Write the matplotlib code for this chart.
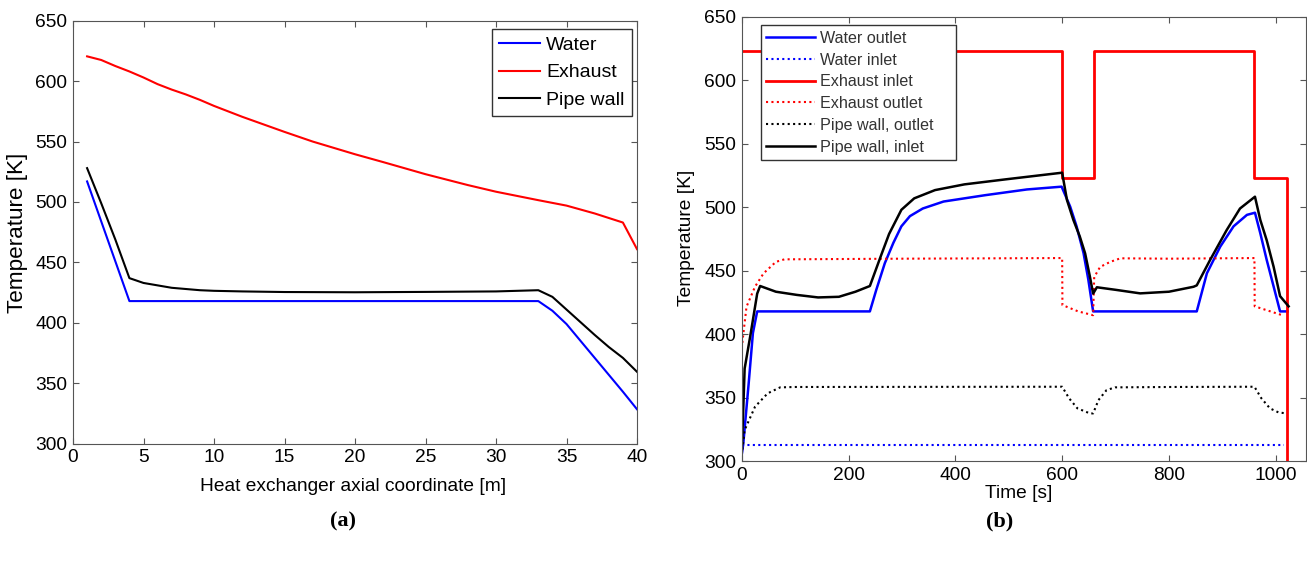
import matplotlib
matplotlib.use("Agg")
import matplotlib.pyplot as plt

plt.rcParams['font.family'] = ['Liberation Sans', 'DejaVu Sans']

# ---------------- (a) axial profiles ----------------
water_x = [1, 4, 33, 34, 35, 36, 37, 38, 39, 40]
water_T = [517, 418, 418, 410, 399, 385, 371, 357, 343, 328.5]

exh_x = [1, 2, 3, 4, 5, 6, 7, 8, 9, 10, 12, 15, 17, 20, 22, 25, 28, 30, 33, 35, 37, 39, 40]
exh_T = [620.5, 617.5, 612.5, 608, 603, 597.5, 593, 589, 584.5, 579.5, 570.5, 558, 550,
         539.5, 533, 523, 514, 508.5, 501.5, 497, 490.5, 483, 461]

wall_x = [1, 2, 3, 4, 5, 6, 7, 8, 9, 10, 12, 15, 20, 25, 30, 33, 34, 35, 36, 37, 38, 39, 40]
wall_T = [528, 499, 469, 437, 433, 431, 429, 428, 427, 426.5, 426, 425.5, 425.3, 425.6, 426,
          427, 421.5, 411, 400.5, 390, 380, 371, 359.5]

# ---------------- (b) time histories ----------------
wout_t = [0, 3, 13, 21, 29, 240, 252, 268, 284, 299, 315, 339, 378, 417, 456, 534, 599, 615,
          627, 640, 649, 658, 852, 871, 896, 921, 946, 961, 971, 983, 996, 1008, 1022]
wout_T = [305, 314, 361, 401, 418, 418, 435, 456, 472, 485, 493, 499, 504.5, 507, 509.5, 514,
          516.2, 500.5, 485, 464, 443, 418, 418, 448, 469, 485, 494, 495.7, 479.5, 458.5,
          437.5, 418, 418]

win_t = [0, 1015]
win_T = [313, 313]

ein_t = [0, 600, 600, 660, 660, 960, 960, 1021, 1021]
ein_T = [623, 623, 523, 523, 623, 623, 523, 523, 280]

eout_t = [0, 9, 25, 41, 64, 80, 300, 600, 600.5, 630, 658, 660, 671, 690, 709, 800, 960,
          960.5, 990, 1012]
eout_T = [389, 421.7, 437.5, 448, 457, 459, 459.5, 460, 423, 418, 415, 445, 453, 457, 459.8,
          459.5, 460, 422, 418, 415]

pwout_t = [0, 5.5, 25, 48.6, 72, 100, 600, 613, 628.5, 652, 658, 668, 683, 699, 800, 960,
           973, 989, 1005, 1020]
pwout_T = [305, 324.6, 343, 353.5, 358.2, 358.5, 358.7, 349.6, 341.7, 337.7, 337.7, 348.2,
           356, 358.2, 358.5, 358.7, 349.6, 341.7, 338.5, 337.7]

pwin_t = [0, 5.5, 17, 29, 34.5, 64, 103, 143, 182, 213, 240, 260, 276, 299, 323, 362, 417,
          495, 600, 609, 621, 633, 643, 652, 658, 665, 700, 746, 800, 846, 852, 877, 908,
          933, 961, 971, 983, 996, 1008, 1024]
pwin_T = [305, 373, 401, 432, 438, 433.5, 431, 429, 429.5, 433.5, 438, 461, 479, 498, 507,
          513.5, 518, 522, 527.2, 505.7, 490, 477, 463.7, 445.3, 432, 437, 435, 432.2, 433.5,
          437.4, 438.5, 458.5, 482, 499, 508.3, 490, 474, 453, 430, 422]

left_xticks = [0, 5, 10, 15, 20, 25, 30, 35, 40]
right_xticks = [0, 200, 400, 600, 800, 1000]
yticks = [300, 350, 400, 450, 500, 550, 600, 650]

W, H = 1307, 566
fig = plt.figure(figsize=(W / 100, H / 100), dpi=100)

def px_axes(x0, x1, ytop, ybot):
    return fig.add_axes([x0 / W, 1 - ybot / H, (x1 - x0) / W, (ybot - ytop) / H])

spine_c = '#555555'
lw = 1.5
dot = (0, (1, 1.6))

def style(ax):
    for s in ax.spines.values():
        s.set_color(spine_c)
        s.set_linewidth(0.8)
    ax.tick_params(direction='in', top=True, right=True, length=4, width=0.8,
                   colors=spine_c, labelcolor='black', labelsize=13.8, pad=4)

# ---- left panel ----
ax1 = px_axes(73, 637, 20.7, 443.7)
ax1.plot(water_x, water_T, color='#0000ff', lw=lw, label='Water')
ax1.plot(exh_x, exh_T, color='#ff0000', lw=lw, label='Exhaust')
ax1.plot(wall_x, wall_T, color='black', lw=lw, label='Pipe wall')
ax1.set_xlim(0, 40)
ax1.set_ylim(300, 650)
ax1.set_xticks(left_xticks)
ax1.set_yticks(yticks)
style(ax1)
leg1 = ax1.legend(loc='upper right', bbox_to_anchor=(0.991, 0.980), borderaxespad=0,
                  fontsize=14.0, handlelength=2.1, handletextpad=0.3, labelspacing=0.5,
                  borderpad=0.38, fancybox=False, framealpha=1, edgecolor='#333333')
leg1.get_frame().set_linewidth(1.0)

# ---- right panel ----
ax2 = px_axes(741.7, 1305.7, 16.7, 461.3)
ax2.plot(wout_t, wout_T, color='#0000ff', lw=lw + 0.3, label='Water outlet')
ax2.plot(win_t, win_T, color='#0000ff', lw=lw, ls=dot, label='Water inlet')
ax2.plot(ein_t, ein_T, color='#ff0000', lw=lw + 0.5, label='Exhaust inlet')
ax2.plot(eout_t, eout_T, color='#ff0000', lw=lw, ls=dot, label='Exhaust outlet')
ax2.plot(pwout_t, pwout_T, color='black', lw=lw, ls=dot, label='Pipe wall, outlet')
ax2.plot(pwin_t, pwin_T, color='black', lw=lw + 0.3, label='Pipe wall, inlet')
ax2.set_xlim(0, 1056)
ax2.set_ylim(300, 650)
ax2.set_xticks(right_xticks)
ax2.set_yticks(yticks)
style(ax2)
leg2 = ax2.legend(loc='upper left', bbox_to_anchor=(0.0337, 0.5, 0.3463, 0.481),
                  mode='expand', borderaxespad=0,
                  fontsize=11.6, handlelength=3.0, handletextpad=0.35, labelspacing=0.42,
                  borderpad=0.35, fancybox=False, framealpha=1, edgecolor='#333333')
leg2.get_frame().set_linewidth(1.0)
for t in leg2.get_texts():
    t.set_color('#333333')

# ---- labels ----
fig.text(17.7 / W, 1 - 233 / H, 'Temperature [K]', rotation=90, ha='center', va='center',
         fontsize=16.2)
fig.text(352.7 / W, 1 - 486.7 / H, 'Heat exchanger axial coordinate [m]', ha='center',
         va='center', fontsize=13.8)
fig.text(686.8 / W, 1 - 238 / H, 'Temperature [K]', rotation=90, ha='center', va='center',
         fontsize=13.8)
fig.text(1019 / W, 1 - 493 / H, 'Time [s]', ha='center', va='center', fontsize=13.8)

fig.text(343 / W, 1 - 521 / H, '(a)', ha='center', va='center', fontsize=16,
         fontweight='bold', family='Liberation Serif')
fig.text(1000 / W, 1 - 521 / H, '(b)', ha='center', va='center', fontsize=16,
         fontweight='bold', family='Liberation Serif')

fig.savefig('out.png', dpi=100)
